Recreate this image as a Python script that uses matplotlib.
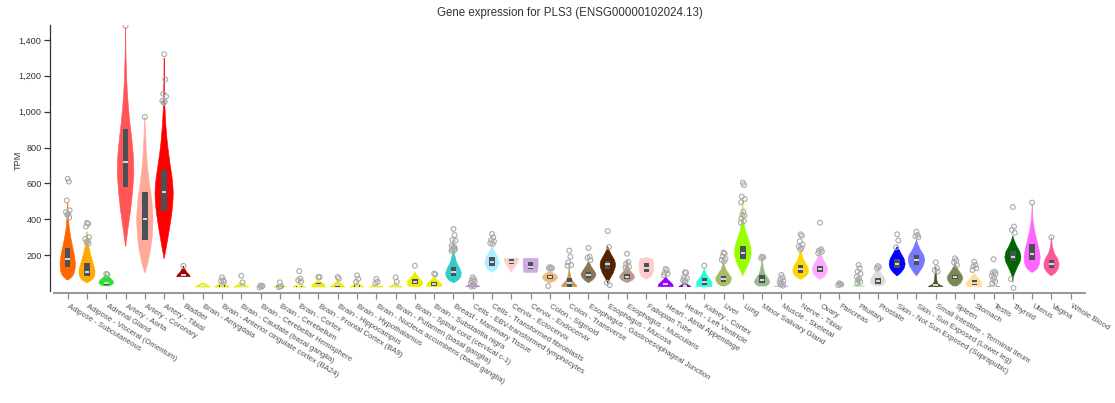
import numpy as np
import matplotlib
matplotlib.use("Agg")
import matplotlib.pyplot as plt
from matplotlib.ticker import FuncFormatter

plt.rcParams['font.family'] = ['Liberation Sans', 'DejaVu Sans']

tissues = [
    "Adipose - Subcutaneous", "Adipose - Visceral (Omentum)", "Adrenal Gland",
    "Artery - Aorta", "Artery - Coronary", "Artery - Tibial", "Bladder",
    "Brain - Amygdala", "Brain - Anterior cingulate cortex (BA24)",
    "Brain - Caudate (basal ganglia)", "Brain - Cerebellar Hemisphere",
    "Brain - Cerebellum", "Brain - Cortex", "Brain - Frontal Cortex (BA9)",
    "Brain - Hippocampus", "Brain - Hypothalamus",
    "Brain - Nucleus accumbens (basal ganglia)", "Brain - Putamen (basal ganglia)",
    "Brain - Spinal cord (cervical c-1)", "Brain - Substantia nigra",
    "Breast - Mammary Tissue", "Cells - EBV-transformed lymphocytes",
    "Cells - Transformed fibroblasts", "Cervix - Ectocervix", "Cervix - Endocervix",
    "Colon - Sigmoid", "Colon - Transverse", "Esophagus - Gastroesophageal Junction",
    "Esophagus - Mucosa", "Esophagus - Muscularis", "Fallopian Tube",
    "Heart - Atrial Appendage", "Heart - Left Ventricle", "Kidney - Cortex", "Liver",
    "Lung", "Minor Salivary Gland", "Muscle - Skeletal", "Nerve - Tibial", "Ovary",
    "Pancreas", "Pituitary", "Prostate", "Skin - Not Sun Exposed (Suprapubic)",
    "Skin - Sun Exposed (Lower leg)", "Small Intestine - Terminal Ileum", "Spleen",
    "Stomach", "Testis", "Thyroid", "Uterus", "Vagina", "Whole Blood",
]

colors = [
    "#FF6600", "#FFAA00", "#33DD33", "#FF5555", "#FFAA99", "#FF0000", "#AA0000",
    "#EEEE00", "#EEEE00", "#EEEE00", "#EEEE00", "#EEEE00", "#EEEE00", "#EEEE00",
    "#EEEE00", "#EEEE00", "#EEEE00", "#EEEE00", "#EEEE00", "#EEEE00",
    "#33CCCC", "#CC66FF", "#AAEEFF", "#FFCCCC", "#CCAADD", "#EEBB77", "#CC9955",
    "#8B7355", "#552200", "#BB9988", "#FFCCCC", "#9900FF", "#660099", "#22FFDD",
    "#AABB66", "#99FF00", "#99BB88", "#AAAAFF", "#FFD700", "#FFAAFF", "#995522",
    "#AAFF99", "#DDDDDD", "#0000FF", "#7777FF", "#555522", "#778855", "#FFDD99",
    "#AAAAAA", "#006600", "#FF66FF", "#FF5599", "#FF00BB",
]

# box statistics (TPM)
q1 = [134, 84, 33, 580, 285, 447, 80, 22, 24, 24, 20, 22, 22, 30, 24, 24, 22, 22,
      37, 27, 84, 24, 139, 151, 121, 65, 24, 74, 121, 65, 108, 33, 26, 33, 52,
      178, 46, 26, 102, 108, 36, 24, 37, 126, 145, 24, 65, 33, 24, 167, 173, 126, np.nan]
median = [177, 108, 42, 718, 400, 553, 87, 26, 30, 30, 23, 25, 26, 36, 32, 30, 26, 27,
          50, 40, 108, 30, 163, 162, 136, 76, 46, 89, 149, 76, 130, 39, 30, 52, 65,
          214, 61, 28, 123, 123, 38, 27, 55, 151, 173, 31, 76, 46, 27, 191, 206, 149, np.nan]
q3 = [240, 156, 52, 905, 550, 675, 92, 30, 34, 34, 26, 28, 30, 42, 38, 34, 30, 32,
      65, 48, 132, 36, 188, 177, 162, 89, 71, 104, 167, 95, 154, 46, 34, 71, 84,
      253, 89, 31, 145, 141, 40, 32, 74, 177, 201, 43, 89, 61, 31, 225, 260, 173, np.nan]

# violin outlines: TPM knots and half-widths (category units)
shape_tpm = [
    [61, 80, 110, 156, 210, 280, 350, 420, 490],
    [46, 60, 85, 115, 160, 210, 260, 330],
    [28, 35, 46, 60, 75, 92],
    [247, 350, 450, 550, 650, 750, 850, 950, 1050, 1150, 1300, 1470],
    [100, 150, 220, 300, 400, 500, 600, 700, 800, 900, 970],
    [180, 260, 350, 450, 540, 620, 720, 820, 920, 1020, 1150, 1300],
    [80, 88, 105, 125, 140],
    [22, 30, 38, 46],
    [22, 30, 38, 47],
    [22, 30, 38, 48],
    [20, 25, 30],
    [22, 28, 36],
    [22, 30, 40],
    [22, 30, 40, 50, 60],
    [22, 30, 40, 50, 58],
    [22, 30, 38, 48],
    [22, 30, 40],
    [22, 30, 38, 46],
    [24, 35, 52, 70, 90, 108],
    [24, 35, 48, 65, 84],
    [46, 60, 80, 100, 125, 160, 200, 240, 284],
    [24, 30, 38, 46],
    [104, 120, 145, 163, 190, 220, 247],
    [104, 130, 155, 175, 182],
    [104, 120, 150, 175, 182],
    [46, 55, 70, 80, 92, 105, 113],
    [24, 33, 50, 70, 100, 136],
    [46, 60, 80, 95, 115, 140, 167],
    [43, 70, 100, 130, 148, 170, 200, 225, 247],
    [46, 60, 75, 90, 110, 140, 173],
    [65, 80, 100, 130, 160, 180, 186],
    [24, 35, 50, 65, 80],
    [24, 32, 40, 46],
    [24, 35, 52, 75, 100, 126],
    [28, 40, 60, 75, 95, 120, 150, 173],
    [85, 120, 160, 200, 240, 280, 330, 386, 440, 507],
    [28, 40, 52, 70, 95, 130, 160, 188],
    [26, 29, 35, 45],
    [65, 80, 100, 120, 145, 175, 205, 229],
    [65, 80, 100, 125, 150, 180, 210, 232],
    [33, 38, 43],
    [24, 30, 40, 55, 80],
    [28, 35, 50, 70, 95, 115, 126],
    [84, 100, 125, 150, 180, 210, 230, 247],
    [84, 105, 140, 170, 200, 230, 260, 284],
    [24, 30, 40, 60, 90, 115, 136],
    [28, 45, 70, 90, 115, 140, 154],
    [24, 35, 45, 60, 80, 99],
    [24, 28, 33],
    [52, 90, 130, 165, 190, 220, 250, 280, 307],
    [104, 120, 150, 190, 230, 280, 330, 380, 424, 485],
    [85, 100, 125, 150, 180, 210, 247, 299],
    [],
]
shape_width = [
    [0, 0.25, 0.37, 0.40, 0.33, 0.19, 0.08, 0.03, 0],
    [0, 0.25, 0.40, 0.42, 0.30, 0.17, 0.07, 0],
    [0.15, 0.30, 0.39, 0.33, 0.17, 0],
    [0, 0.13, 0.26, 0.36, 0.43, 0.41, 0.32, 0.21, 0.13, 0.07, 0.025, 0],
    [0, 0.15, 0.28, 0.38, 0.43, 0.37, 0.24, 0.13, 0.07, 0.03, 0],
    [0, 0.14, 0.28, 0.42, 0.48, 0.43, 0.29, 0.17, 0.09, 0.04, 0.015, 0],
    [0.35, 0.32, 0.17, 0.06, 0],
    [0.39, 0.30, 0.15, 0],
    [0.38, 0.30, 0.15, 0],
    [0.38, 0.28, 0.14, 0],
    [0.12, 0.08, 0],
    [0.33, 0.22, 0],
    [0.33, 0.20, 0],
    [0.35, 0.34, 0.28, 0.14, 0],
    [0.36, 0.30, 0.20, 0.08, 0],
    [0.35, 0.25, 0.12, 0],
    [0.35, 0.20, 0],
    [0.35, 0.22, 0.10, 0],
    [0.30, 0.38, 0.40, 0.25, 0.08, 0],
    [0.38, 0.40, 0.30, 0.12, 0],
    [0, 0.25, 0.38, 0.41, 0.33, 0.16, 0.06, 0.02, 0],
    [0.36, 0.28, 0.12, 0],
    [0, 0.22, 0.35, 0.37, 0.28, 0.13, 0],
    [0, 0.15, 0.30, 0.38, 0.38],
    [0.34, 0.37, 0.39, 0.38, 0.38],
    [0, 0.25, 0.38, 0.40, 0.30, 0.10, 0],
    [0.39, 0.38, 0.22, 0.10, 0.04, 0],
    [0, 0.20, 0.36, 0.39, 0.28, 0.12, 0],
    [0, 0.12, 0.28, 0.38, 0.40, 0.36, 0.20, 0.08, 0],
    [0, 0.28, 0.39, 0.35, 0.18, 0.06, 0],
    [0, 0.25, 0.34, 0.38, 0.38, 0.32, 0],
    [0.39, 0.38, 0.25, 0.10, 0],
    [0.30, 0.20, 0.08, 0],
    [0.38, 0.40, 0.38, 0.22, 0.08, 0],
    [0.10, 0.30, 0.40, 0.40, 0.28, 0.12, 0.04, 0],
    [0, 0.15, 0.33, 0.43, 0.42, 0.32, 0.15, 0.05, 0.02, 0],
    [0.20, 0.36, 0.40, 0.32, 0.15, 0.06, 0.03, 0],
    [0.35, 0.15, 0.05, 0],
    [0, 0.25, 0.39, 0.41, 0.32, 0.15, 0.06, 0],
    [0, 0.22, 0.35, 0.39, 0.30, 0.14, 0.05, 0],
    [0.05, 0.04, 0],
    [0.34, 0.20, 0.08, 0.03, 0],
    [0.10, 0.30, 0.39, 0.35, 0.20, 0.06, 0],
    [0, 0.18, 0.36, 0.42, 0.36, 0.20, 0.10, 0],
    [0, 0.15, 0.36, 0.43, 0.38, 0.20, 0.08, 0],
    [0.38, 0.30, 0.12, 0.06, 0.04, 0.02, 0],
    [0.10, 0.30, 0.41, 0.35, 0.18, 0.06, 0],
    [0.36, 0.40, 0.40, 0.30, 0.12, 0],
    [0.32, 0.20, 0],
    [0, 0.06, 0.22, 0.38, 0.42, 0.36, 0.20, 0.08, 0],
    [0, 0.25, 0.38, 0.42, 0.36, 0.25, 0.14, 0.06, 0.02, 0],
    [0, 0.20, 0.36, 0.40, 0.32, 0.15, 0.05, 0],
    [],
]

outliers = [
    [625, 610, 505, 450, 440, 430, 425, 410],
    [380, 375, 360, 300, 290, 280, 270, 265],
    [95, 92],
    [1478],
    [970],
    [1320, 1180, 1100, 1085, 1060, 1055, 1050],
    [140],
    [],
    [76, 61, 56, 51],
    [85, 48],
    [30, 25, 20, 28],
    [48, 26, 22],
    [111, 69, 60, 52],
    [78, 77],
    [78, 69],
    [87, 67, 51],
    [67, 52, 43],
    [76, 52],
    [141],
    [97, 92],
    [346, 312, 285, 281, 253, 247, 240, 236, 232, 228, 224],
    [76, 66, 60, 52, 45, 38, 32, 28, 24],
    [318, 299, 284, 276, 266, 262],
    [],
    [],
    [133, 130, 128, 126, 28],
    [225, 191, 160, 145, 141],
    [240, 191, 185, 172],
    [334, 245, 46, 33],
    [208, 162, 152, 135, 130],
    [],
    [123, 115, 102, 95, 89],
    [104, 102, 76, 71, 61, 56, 50],
    [141],
    [214, 209, 193, 178, 173, 165],
    [604, 591, 526, 513, 495, 442, 424, 420, 405, 390, 381],
    [191, 188, 183],
    [89, 75, 65, 55, 48, 42, 36, 30],
    [316, 308, 277, 258, 247, 240, 231],
    [381, 232, 225, 220, 211],
    [43, 39, 33, 36],
    [145, 127, 108, 97, 80, 71, 61, 52, 45],
    [139, 132, 126],
    [316, 281, 244],
    [331, 312, 305, 299],
    [160, 128, 117, 109],
    [182, 170, 160, 145],
    [163, 145, 136, 127, 117],
    [177, 108, 102, 95, 85, 75, 62, 52, 43],
    [468, 359, 340, 325, 67, 17],
    [493],
    [299],
    [],
]

yticks = [200, 400, 600, 800, 1000, 1200, 1400]
title = "Gene expression for PLS3 (ENSG00000102024.13)"

fig = plt.figure(figsize=(11.15, 4.03), dpi=100)
ax = fig.add_axes([54 / 1115, 112 / 403, 1031 / 1115, 266 / 403])


def smooth_profile(ys, ws, n=160):
    ys = np.asarray(ys, float)
    ws = np.asarray(ws, float)
    grid = np.linspace(ys[0], ys[-1], n)
    w = np.interp(grid, ys, ws)
    k = 9
    pad = np.pad(w, k // 2, mode='edge')
    ws2 = np.convolve(pad, np.ones(k) / k, mode='valid')
    ws2[0] = w[0]
    ws2[-1] = w[-1]
    return grid, ws2


offs = [0.0, 0.06, -0.05, 0.1, -0.09, 0.03, -0.02, 0.08, -0.07, 0.05, -0.1, 0.01]
for i, name in enumerate(tissues):
    if len(shape_tpm[i]) == 0:
        continue
    g, w = smooth_profile(shape_tpm[i], shape_width[i])
    xs = np.concatenate([i - w, (i + w)[::-1]])
    ys = np.concatenate([g, g[::-1]])
    ax.fill(xs, ys, color=colors[i], lw=0.4, ec=colors[i], zorder=2)
    if not np.isnan(q1[i]):
        bw = 0.14
        ax.add_patch(plt.Rectangle((i - bw, q1[i]), 2 * bw, q3[i] - q1[i],
                                   fc="#4b5257", ec="none", zorder=3))
        ax.plot([i - bw * 0.85, i + bw * 0.85], [median[i], median[i]],
                color="white", lw=1.1, zorder=4, solid_capstyle='butt')
    ol = outliers[i]
    if ol:
        ox = [i + offs[k % len(offs)] for k in range(len(ol))]
        ax.scatter(ox, ol, s=12, facecolors="none", edgecolors="#aaaaaa",
                   linewidths=0.8, zorder=5)

ax.set_xlim(-0.71, 52.74)
ax.set_ylim(0, 1483)

for s in ["top", "right"]:
    ax.spines[s].set_visible(False)
ax.spines["left"].set_position(("outward", 2.9))
ax.spines["left"].set_color("#333333")
ax.spines["left"].set_linewidth(0.9)
ax.spines["bottom"].set_position(("outward", 1.5))
ax.spines["bottom"].set_color("#999999")
ax.spines["bottom"].set_linewidth(1.5)

ax.set_yticks(yticks)
ax.yaxis.set_major_formatter(FuncFormatter(lambda v, p: f"{int(v):,}"))
ax.tick_params(axis="y", length=4, width=0.9, color="#333333", labelsize=6.6,
               labelcolor="#333333", pad=2)

ax.set_xticks(range(len(tissues)))
ax.set_xticklabels(tissues, rotation=-31, ha="left", va="center",
                   rotation_mode="anchor", fontsize=5.6, color="#505050")
ax.tick_params(axis="x", length=4, width=0.9, color="#888888", pad=5)

fig.text(18 / 1115, 1 - 160 / 403, "TPM", rotation=90, ha="center", va="center",
         fontsize=6.6, color="#333333")
fig.text(570 / 1115, 1 - 13 / 403, title, ha="center", va="center",
         fontsize=8.3, color="#333333")

fig.savefig("out.png", dpi=100)
